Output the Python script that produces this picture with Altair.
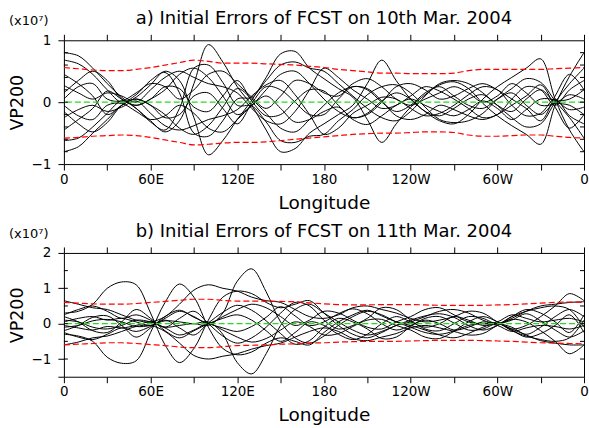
import altair as alt
import pandas as pd

FONT = "DejaVu Sans"

# ---------------- data ----------------
lons = list(range(0, 361, 10))

# panel a: 10th Mar. 2004 (units of 1e7)
a1 = [0.80,0.75,0.55,0.30,0.08, -0.10,-0.30,-0.48,-0.30,0.30, 0.93,0.65,0.25,-0.05,-0.45, -0.80,-0.75,-0.50,-0.35,-0.20, -0.05,0.30,0.68,0.35,0.05, -0.15,-0.30,-0.35,-0.20,0.05, 0.25,0.40,0.55,0.70,0.05, -0.45,-0.80]
a2 = [-0.80,-0.72,-0.50,-0.28,-0.05, 0.08,0.28,0.50,0.35,-0.25, -0.85,-0.62,-0.28,0.03,0.40, 0.78,0.82,0.55,0.38,0.22, 0.08,-0.28,-0.65,-0.35,-0.08, 0.12,0.28,0.33,0.22,-0.02, -0.22,-0.38,-0.52,-0.68,-0.05, 0.42,0.80]
a3 = [0.68,0.62,0.45,0.20,0.00, 0.12,0.35,0.48,0.15,-0.50, -0.55,-0.30,0.05,0.08,0.35, 0.60,0.65,0.55,0.50,0.30, 0.10,-0.10,-0.25,-0.30,-0.15, 0.10,0.30,0.35,0.30,0.15, -0.05,-0.25,-0.40,-0.35,0.00, 0.30,0.55]
a4 = [-0.62,-0.58,-0.40,-0.18,0.02, -0.10,-0.32,-0.45,-0.10,0.55, 0.60,0.32,-0.05,-0.06,-0.32, -0.62,-0.65,-0.55,-0.52,-0.30, -0.12,0.12,0.25,0.28,0.15, -0.08,-0.28,-0.33,-0.30,-0.18, 0.05,0.22,0.38,0.32,0.02, -0.25,-0.58]
a5 = [0.27,0.15,0.05,0.15,0.10, 0.00,0.20,0.40,0.50,0.40, 0.30,0.25,0.15,-0.10,-0.30, -0.35,-0.15,0.20,0.55,0.40, 0.20,0.05,-0.10,-0.05,0.10, 0.25,0.18,0.05,-0.10,-0.25, -0.20,0.05,0.25,0.20,-0.05, 0.20,0.35]
a6 = [-0.25,-0.12,-0.05,-0.15,-0.08, 0.02,-0.18,-0.38,-0.45,-0.38, -0.28,-0.22,-0.12,0.10,0.28, 0.35,0.12,-0.20,-0.52,-0.42, -0.18,-0.05,0.08,0.05,-0.10, -0.22,-0.18,-0.05,0.12,0.25, 0.20,-0.05,-0.22,-0.18,0.05, -0.22,-0.35]
a7 = [0.15,0.35,0.50,0.35,0.05, -0.05,0.05,0.20,0.45,0.55, 0.40,0.10,-0.20,-0.05,0.20, 0.45,0.50,0.30,0.05,-0.15, -0.25,-0.20,0.00,0.25,0.30, 0.20,0.05,0.10,0.22,0.30, 0.20,0.05,-0.10,-0.30,0.10, 0.45,0.20]
a8 = [-0.15,-0.35,-0.48,-0.33,-0.05, 0.05,-0.05,-0.20,-0.42,-0.52, -0.38,-0.08,0.22,0.05,-0.18, -0.42,-0.48,-0.28,-0.05,0.15, 0.25,0.22,0.02,-0.22,-0.28, -0.20,-0.05,-0.12,-0.22,-0.28, -0.20,-0.05,0.10,0.28,-0.08, -0.42,-0.20]
a9 = [0.05,0.25,0.30,0.05,0.02, 0.15,0.30,0.25,0.05,0.20, 0.45,0.50,0.30,0.08,-0.10, 0.10,0.35,0.30,0.15,0.10, 0.30,0.38,0.25,0.05,-0.05, 0.05,0.15,0.25,0.15,0.00, 0.10,0.30,0.15,-0.05,-0.02, 0.12,0.05]
a10 = [-0.05,-0.22,-0.28,-0.05,-0.02, -0.15,-0.28,-0.22,-0.05,-0.18, -0.42,-0.48,-0.28,-0.06,0.10, -0.10,-0.32,-0.28,-0.15,-0.08, -0.28,-0.36,-0.22,-0.05,0.05, -0.05,-0.15,-0.22,-0.12,0.02, -0.10,-0.28,-0.12,0.05,0.03, -0.12,-0.08]
a11 = [0.45,0.30,0.10,-0.20,-0.05, 0.05,-0.05,-0.25,-0.20,0.10, 0.15,-0.10,-0.35,-0.02,0.25, 0.20,0.00,-0.20,-0.20,0.05, 0.25,0.20,0.00,-0.15,-0.05, 0.15,0.25,0.10,-0.05,-0.10, 0.05,0.15,-0.05,-0.20,0.00, 0.05,0.20]
a12 = [-0.45,-0.28,-0.10,0.18,0.05, -0.05,0.05,0.25,0.22,-0.08, -0.15,0.10,0.35,0.02,-0.22, -0.20,0.02,0.20,0.18,-0.05, -0.25,-0.18,0.02,0.15,0.05, -0.15,-0.22,-0.10,0.05,0.12, -0.05,-0.15,0.05,0.20,0.00, -0.05,-0.20]
a_upper = [0.56,0.54,0.52,0.51,0.51, 0.53,0.56,0.60,0.64,0.68, 0.66,0.63,0.63,0.63,0.62, 0.61,0.60,0.58,0.56,0.53, 0.51,0.49,0.47,0.47,0.46, 0.46,0.46,0.47,0.51,0.53, 0.53,0.53,0.53,0.53,0.54, 0.55,0.56]
a_lower = [-0.58,-0.57,-0.55,-0.54,-0.53, -0.54,-0.57,-0.61,-0.65,-0.69, -0.68,-0.66,-0.65,-0.65,-0.64, -0.62,-0.60,-0.58,-0.56,-0.54, -0.52,-0.51,-0.50,-0.50,-0.49, -0.48,-0.48,-0.49,-0.53,-0.55, -0.55,-0.54,-0.53,-0.53,-0.55, -0.57,-0.58]

# panel b: 11th Mar. 2004
b1 = [0.30,0.35,0.55,1.00,1.18, 1.10,0.30,-0.60,-1.10,-0.70, 0.10,0.75,0.92,0.85,0.60, 0.45,0.55,0.65,0.30,-0.05, -0.30,-0.40,-0.25,-0.05,0.05, 0.20,0.35,0.40,0.30,0.10, 0.00,0.15,0.35,0.50,0.55, 0.60,0.62]
b2 = [-0.30,-0.35,-0.50,-0.95,-1.12, -1.05,-0.25,0.60,1.12,0.75, -0.10,-0.70,-0.88,-0.80,-0.55, -0.40,-0.50,-0.60,-0.25,0.05, 0.25,0.38,0.22,0.05,-0.05, -0.18,-0.32,-0.40,-0.28,-0.10, 0.00,-0.15,-0.32,-0.48,-0.55, -0.60,-0.60]
b3 = [0.10,0.05,-0.10,-0.15,-0.05, 0.10,0.05,-0.10,-0.05,0.00, -0.05,0.30,1.20,1.55,0.90, 0.05,-0.40,-0.55,-0.35,-0.05, 0.20,0.35,0.25,0.05,-0.10, -0.25,-0.30,-0.20,0.05,0.20, 0.05,-0.20,-0.35,-0.45,-0.50, -0.40,0.10]
b4 = [-0.10,-0.05,0.08,0.12,0.05, -0.08,-0.05,0.08,0.05,0.00, 0.05,-0.30,-1.10,-1.42,-0.85, -0.05,0.40,0.55,0.30,0.05, -0.18,-0.32,-0.22,-0.05,0.10, 0.22,0.28,0.18,-0.05,-0.18, -0.05,0.20,0.35,0.45,0.50, 0.40,-0.10]
b5 = [0.65,0.55,0.45,0.40,0.25, 0.10,0.05,0.20,0.55,0.95, 1.10,1.00,0.92,0.75,0.65, 0.60,0.40,0.20,0.15,0.25, 0.45,0.50,0.40,0.30,0.15, 0.05,0.10,0.20,0.35,0.30, 0.05,-0.15,-0.05,0.20,0.50, 0.85,0.65]
b6 = [-0.60,-0.52,-0.40,-0.35,-0.22, -0.08,-0.05,-0.22,-0.55,-0.90, -1.00,-0.92,-0.85,-0.72,-0.62, -0.55,-0.38,-0.22,-0.12,-0.22, -0.42,-0.48,-0.38,-0.28,-0.12, -0.05,-0.12,-0.22,-0.32,-0.28, -0.05,0.12,0.05,-0.20,-0.50, -0.85,-0.60]
b7 = [0.25,0.40,0.50,0.35,0.15, 0.25,0.10,-0.10,0.15,0.35, 0.00,-0.35,-0.55,-0.40,-0.10, 0.30,0.60,0.50,0.10,-0.15, -0.05,0.15,0.45,0.40,0.10, -0.15,-0.20,0.00,0.20,0.15, 0.00,0.20,0.40,0.30,0.05, -0.25,0.25]
b8 = [-0.25,-0.38,-0.45,-0.30,-0.12, -0.22,-0.08,0.10,-0.12,-0.32, 0.02,0.32,0.52,0.38,0.08, -0.28,-0.58,-0.48,-0.10,0.15, 0.05,-0.15,-0.42,-0.38,-0.08, 0.15,0.20,0.02,-0.18,-0.15, 0.00,-0.18,-0.38,-0.28,-0.05, 0.25,-0.25]
b9 = [0.05,0.15,0.20,0.10,0.15, 0.05,-0.05,0.15,0.35,0.20, 0.00,0.20,0.40,0.55,0.45, 0.20,-0.05,0.10,0.35,0.30, 0.10,-0.10,-0.15,0.05,0.20, 0.40,0.45,0.25,0.05,0.00, 0.05,0.25,0.15,0.05,0.10, 0.15,0.05]
b10 = [-0.05,-0.12,-0.18,-0.08,-0.12, -0.05,0.05,-0.12,-0.32,-0.18, 0.00,-0.18,-0.38,-0.52,-0.42, -0.18,0.05,-0.08,-0.32,-0.28, -0.08,0.10,0.12,-0.05,-0.18, -0.38,-0.42,-0.22,-0.05,0.00, -0.05,-0.22,-0.12,-0.05,-0.08, -0.15,-0.05]
b11 = [0.20,0.05,-0.20,-0.25,0.05, 0.40,0.15,-0.20,-0.40,-0.20, 0.00,0.15,0.25,0.10,-0.20, -0.50,-0.25,0.05,-0.05,-0.30, -0.45,-0.30,0.00,0.20,0.05, -0.10,0.00,0.20,0.10,-0.05, 0.00,-0.10,-0.30,-0.10,0.20, 0.40,0.20]
b12 = [-0.20,-0.05,0.18,0.22,-0.05, -0.38,-0.12,0.20,0.38,0.18, 0.00,-0.12,-0.22,-0.08,0.18, 0.48,0.22,-0.05,0.05,0.28, 0.42,0.28,0.00,-0.18,-0.05, 0.10,0.00,-0.18,-0.10,0.05, 0.00,0.10,0.28,0.08,-0.18, -0.38,-0.20]
b_upper = [0.60,0.58,0.56,0.55,0.55, 0.57,0.60,0.63,0.66,0.69, 0.69,0.66,0.64,0.64,0.64, 0.63,0.62,0.59,0.56,0.54, 0.53,0.53,0.54,0.54,0.54, 0.53,0.52,0.52,0.52,0.52, 0.53,0.54,0.56,0.58,0.60, 0.61,0.60]
b_lower = [-0.60,-0.58,-0.56,-0.54,-0.54, -0.56,-0.59,-0.62,-0.66,-0.68, -0.68,-0.65,-0.62,-0.61,-0.60, -0.58,-0.57,-0.55,-0.54,-0.52, -0.51,-0.50,-0.50,-0.50,-0.49, -0.48,-0.47,-0.47,-0.47,-0.48, -0.49,-0.50,-0.52,-0.54,-0.55, -0.56,-0.57]

x_tick_values = list(range(0, 361, 30))
x_label_values = [0, 60, 120, 180, 240, 300, 360]
x_label_texts = ["0", "60E", "120E", "180", "120W", "60W", "0"]

a_y_domain = [-1, 1]
a_y_major = [-1, 0, 1]
a_y_inner = [-0.8, -0.6, -0.4, -0.2, 0, 0.2, 0.4, 0.6, 0.8]
b_y_domain = [-1.5, 2]
b_y_major = [-1.5, -1, 0, 1, 2]
b_y_inner = [-1, -0.5, 0, 0.5, 1, 1.5]

title_a = "a) Initial Errors of FCST on 10th Mar. 2004"
title_b = "b) Initial Errors of FCST on 11th Mar. 2004"
scale_note = "(x10\u2077)"

W, H = 521, 124

label_expr = " : ".join(
    f"datum.value == {v} ? '{t}'" for v, t in zip(x_label_values, x_label_texts)
) + " : ''"


def panel(series, upper, lower, ydom, ymajor, yinner, title):
    rows = []
    for i, s in enumerate(series):
        for lo, v in zip(lons, s):
            rows.append({"member": f"m{i+1}", "lon": lo, "vp": v})
    df = pd.DataFrame(rows)
    env_rows = [{"side": "upper", "lon": lo, "vp": v} for lo, v in zip(lons, upper)]
    env_rows += [{"side": "lower", "lon": lo, "vp": v} for lo, v in zip(lons, lower)]
    env = pd.DataFrame(env_rows)

    xs = alt.Scale(domain=[0, 360], nice=False, zero=False)
    ys = alt.Scale(domain=ydom, nice=False, zero=False)

    x_bottom = alt.Axis(orient="bottom", values=x_tick_values, labelExpr=label_expr,
                        title="Longitude", domain=False, grid=False, tickSize=6,
                        labelPadding=2, labelFontSize=13.5, titleFontSize=18.5,
                        titleY=29, labelFlush=False, labelOverlap=False)
    y_left = alt.Axis(orient="left", values=ymajor, format=".0f",
                      labelExpr="datum.value == -1.5 ? '' : datum.label",
                      title="VP200", domain=False, grid=False, tickSize=6,
                      labelPadding=7, labelFontSize=13.5, titleFontSize=17.5,
                      titleX=-37, labelFlush=False)
    x_top = alt.Axis(orient="top", values=x_tick_values, labels=False, title="",
                     domain=False, grid=False, tickSize=6)

    black = alt.Chart(df).mark_line(color="black", strokeWidth=1, clip=True,
                                    interpolate="catmull-rom").encode(
        x=alt.X("lon:Q", scale=xs, axis=x_bottom),
        y=alt.Y("vp:Q", scale=ys, axis=y_left),
        detail="member:N",
    )
    red = alt.Chart(env).mark_line(color="#ff0000", strokeWidth=1.2, strokeDash=[6, 3],
                                   interpolate="monotone").encode(
        x=alt.X("lon:Q", scale=xs, axis=x_top),
        y=alt.Y("vp:Q", scale=ys, axis=None),
        detail="side:N",
    )
    green = alt.Chart(pd.DataFrame({"vp": [0]})).mark_rule(
        color="#22dd22", strokeWidth=1.2, strokeDash=[6, 3]).encode(
        y=alt.Y("vp:Q", scale=ys, axis=None))
    tdf = pd.DataFrame({"vp": yinner})
    lt = alt.Chart(tdf).mark_rule(color="black", strokeWidth=1).encode(
        y=alt.Y("vp:Q", scale=ys, axis=None), x=alt.value(0), x2=alt.value(4))
    rt = alt.Chart(tdf).mark_rule(color="black", strokeWidth=1).encode(
        y=alt.Y("vp:Q", scale=ys, axis=None), x=alt.value(W - 4), x2=alt.value(W))
    note = alt.Chart(pd.DataFrame({"t": [scale_note]})).mark_text(
        align="left", baseline="alphabetic", fontSize=13, font=FONT, color="black").encode(
        x=alt.value(-55), y=alt.value(-15), text="t:N")
    ttl = alt.Chart(pd.DataFrame({"t": [title]})).mark_text(
        align="center", baseline="alphabetic", fontSize=18, font=FONT, color="black").encode(
        x=alt.value(W / 2), y=alt.value(-16), text="t:N")

    return alt.layer(black, red, green, lt, rt, note, ttl).resolve_axis(
        x="independent", y="independent").properties(width=W, height=H)


pa = panel([a1, a2, a3, a4, a5, a6, a7, a8, a9, a10, a11, a12], a_upper, a_lower,
           a_y_domain, a_y_major, a_y_inner, title_a)
pb = panel([b1, b2, b3, b4, b5, b6, b7, b8, b9, b10, b11, b12], b_upper, b_lower,
           b_y_domain, b_y_major, b_y_inner, title_b)

chart = alt.vconcat(pa, pb, spacing=10).properties(
    padding={"left": 8, "top": 9, "right": 0, "bottom": 0},
    background="white",
).configure_view(stroke="black", strokeWidth=1).configure_axis(
    labelFont=FONT, titleFont=FONT, labelColor="black", titleColor="black",
    tickColor="black", domainColor="black", titleFontWeight="normal")

chart.save("out.html", embed_options={"renderer": "svg", "actions": False})
